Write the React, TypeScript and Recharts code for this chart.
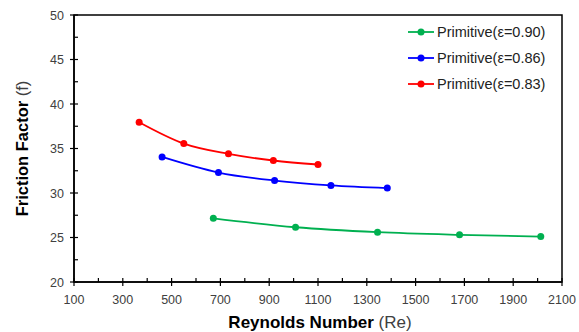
import React from 'react';
import { LineChart, Line, XAxis, YAxis, ReferenceArea, Label } from 'recharts';

// Reynolds number vs friction factor
const re090 = [671, 1008, 1344, 1680, 2013];
const f090 = [27.15, 26.15, 25.6, 25.3, 25.1];

const re086 = [461, 692, 922, 1153, 1384];
const f086 = [34.05, 32.3, 31.4, 30.85, 30.55];

const re083 = [367, 550, 733, 917, 1100];
const f083 = [37.95, 35.55, 34.4, 33.65, 33.2];

const seriesNames = ['Primitive(ε=0.90)', 'Primitive(ε=0.86)', 'Primitive(ε=0.83)'];
const colors = ['#00B050', '#0000FF', '#FF0000'];

const xTicks = [100, 200, 300, 400, 500, 600, 700, 800, 900, 1000, 1100, 1200, 1300, 1400, 1500, 1600, 1700, 1800, 1900, 2000, 2100];
const yTicks = [20, 22.5, 25, 27.5, 30, 32.5, 35, 37.5, 40, 42.5, 45, 47.5, 50];

const toPoints = (xs: number[], ys: number[]) => xs.map((x, i) => ({ re: x, f: ys[i] }));

const series = [
  { name: seriesNames[0], color: colors[0], data: toPoints(re090, f090) },
  { name: seriesNames[1], color: colors[1], data: toPoints(re086, f086) },
  { name: seriesNames[2], color: colors[2], data: toPoints(re083, f083) },
];

const FONT = 'Arial, "Liberation Sans", sans-serif';
const TICK_COLOR = '#404040';

// major ticks cross the axis and carry a label, minor ticks sit inside
const XTick = (props: any) => {
  const { x, y, payload } = props;
  const major = (payload.value - 100) % 200 === 0;
  return (
    <g>
      <line x1={x} x2={x} y1={y - 4} y2={major ? y + 4 : y} stroke="#000" strokeWidth={1.2} />
      {major && (
        <text x={x} y={y + 22} textAnchor="middle" fontSize={12.5} fontFamily={FONT} fill={TICK_COLOR}>
          {payload.value}
        </text>
      )}
    </g>
  );
};

const YTick = (props: any) => {
  const { x, y, payload } = props;
  const major = payload.value % 5 === 0;
  return (
    <g>
      <line x1={major ? x - 4 : x} x2={x + 4} y1={y} y2={y} stroke="#000" strokeWidth={1.2} />
      {major && (
        <text x={x - 10} y={y + 4.5} textAnchor="end" fontSize={12.5} fontFamily={FONT} fill={TICK_COLOR}>
          {payload.value}
        </text>
      )}
    </g>
  );
};

const XTitle = (props: any) => {
  const vb = props.viewBox;
  return (
    <text x={vb.x + vb.width / 2 + 2} y={vb.y + 46} textAnchor="middle" fontSize={17} fontFamily={FONT} fill="#000">
      <tspan fontWeight="bold">Reynolds Number</tspan>
      <tspan fill={TICK_COLOR}> (Re)</tspan>
    </text>
  );
};

const YTitle = (props: any) => {
  const vb = props.viewBox;
  const cx = 28;
  const cy = vb.y + vb.height / 2;
  return (
    <text x={cx} y={cy} transform={`rotate(-90, ${cx}, ${cy})`} textAnchor="middle" fontSize={16.5} fontFamily={FONT} fill="#000">
      <tspan fontWeight="bold">Friction Factor</tspan>
      <tspan fill={TICK_COLOR}> (f)</tspan>
    </text>
  );
};

// legend drawn over the plot, outside recharts so it takes no room from the axes
const LegendBox = () => (
  <div style={{ position: 'absolute', left: 408, top: 19, fontFamily: FONT, fontSize: 14.5, color: '#222' }}>
    {series.map(s => (
      <div key={s.name} style={{ display: 'flex', alignItems: 'center', height: 26 }}>
        <svg width={28} height={10} style={{ marginRight: 1 }}>
          <line x1={0} x2={26} y1={5} y2={5} stroke={s.color} strokeWidth={1.8} />
          <circle cx={13} cy={5} r={3.5} fill={s.color} />
        </svg>
        <span>{s.name}</span>
      </div>
    ))}
  </div>
);

export default function App() {
  return (
    <div style={{ position: 'absolute', left: 0, top: 0, width: 579, height: 332, background: '#fff' }}>
      <LineChart width={579} height={332} margin={{ top: 15, right: 17, bottom: 0, left: 0 }}>
        <XAxis
          type="number"
          dataKey="re"
          domain={[100, 2100]}
          ticks={xTicks}
          interval={0}
          height={50}
          tickSize={0}
          tickMargin={0}
          tickLine={false}
          axisLine={{ stroke: '#000', strokeWidth: 1.5 }}
          tick={<XTick />}
        >
          <Label content={<XTitle />} />
        </XAxis>
        <YAxis
          type="number"
          dataKey="f"
          domain={[20, 50]}
          ticks={yTicks}
          interval={0}
          width={74}
          tickSize={0}
          tickMargin={0}
          tickLine={false}
          axisLine={{ stroke: '#000', strokeWidth: 1.5 }}
          tick={<YTick />}
        >
          <Label content={<YTitle />} />
        </YAxis>
        <ReferenceArea x1={100} x2={2100} y1={20} y2={50} fill="none" stroke="#000" strokeWidth={1.5} />
        {series.map(s => (
          <Line
            key={s.name}
            data={s.data}
            dataKey="f"
            name={s.name}
            type="monotone"
            stroke={s.color}
            strokeWidth={1.8}
            dot={{ r: 3.5, fill: s.color, stroke: s.color, strokeWidth: 0 }}
            activeDot={false}
            isAnimationActive={false}
          />
        ))}
      </LineChart>
      <LegendBox />
    </div>
  );
}
